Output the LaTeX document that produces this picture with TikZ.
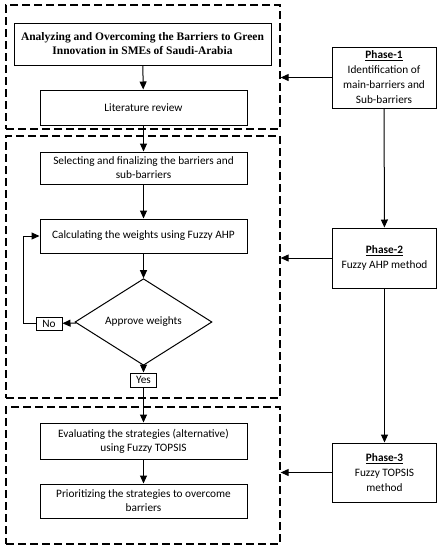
\documentclass[tikz,border=0pt]{standalone}
\usepackage{fontspec}
\setmainfont{Carlito}
\newfontfamily\titlefont{Liberation Serif}
\usetikzlibrary{arrows.meta,shapes.geometric}
\begin{document}
\begin{tikzpicture}[x=1pt,y=-1pt,
  box/.style={draw,line width=1pt,align=center,inner sep=2pt,font=\fontsize{11.3}{14}\selectfont},
  phasebox/.style={draw,line width=1pt,align=center,inner sep=2pt,minimum width=104pt,font=\fontsize{11.3}{15}\selectfont},
  dbox/.style={draw,line width=1.3pt,dash pattern=on 8pt off 4pt,inner sep=0pt},
  arr/.style={line width=1pt,-{Triangle[length=8pt,width=7pt]}},
  ln/.style={line width=1pt}]
\useasboundingbox (0,0) rectangle (442,550);
% dashed phase regions
\node[dbox,minimum width=274pt,minimum height=124pt] (d1) at (143,67) {};
\node[dbox,minimum width=274pt,minimum height=262pt] (d2) at (143,267) {};
\node[dbox,minimum width=274pt,minimum height=137pt] (d3) at (143,475.5) {};
% flow boxes
\node[box,minimum width=257pt,minimum height=42pt,font=\titlefont\bfseries\fontsize{11.5}{14}\selectfont] (title) at (142.5,44)
  {Analyzing and Overcoming the Barriers to Green\\Innovation in SMEs of Saudi-Arabia};
\node[box,minimum width=207pt,minimum height=35pt] (lit) at (143.5,107.5) {Literature review};
\node[box,minimum width=207pt,minimum height=32pt] (sel) at (143.5,168) {Selecting and finalizing the barriers and\\sub-barriers};
\node[box,minimum width=207pt,minimum height=34pt] (calc) at (143.5,236) {Calculating the weights using Fuzzy AHP};
\node[draw,line width=1pt,diamond,inner sep=0pt,minimum width=137pt,minimum height=67pt,font=\fontsize{11.3}{14}\selectfont] (appr) at (143.5,322) {Approve weights};
\node[box,minimum width=26pt,minimum height=13pt,inner sep=0pt] (no) at (49,323.5) {No};
\node[box,minimum width=26pt,minimum height=14pt,inner sep=0pt] (yes) at (143.5,380) {Yes};
\node[box,minimum width=207pt,minimum height=36pt] (eval) at (143.5,441) {Evaluating the strategies (alternative)\\using Fuzzy TOPSIS};
\node[box,minimum width=207pt,minimum height=34pt] (prio) at (143.5,501) {Prioritizing the strategies to overcome\\barriers};
\coordinate (loop) at (23,323.5);
% phase boxes
\node[phasebox,minimum height=61pt] (p1) at (384,77.5) {\textbf{\underline{Phase-1}}\\Identification of\\main-barriers and\\Sub-barriers};
\node[phasebox,minimum height=60pt] (p2) at (384.5,258) {\textbf{\underline{Phase-2}}\\Fuzzy AHP method};
\node[phasebox,minimum height=59pt] (p3) at (384.5,472.5) {\textbf{\underline{Phase-3}}\\Fuzzy TOPSIS\\method};
% connectors
\draw[arr] (title) -- (lit);
\draw[arr] (lit) -- (sel);
\draw[arr] (sel) -- (calc);
\draw[arr] (calc) -- (appr);
\draw[arr] (appr) -- (no);
\draw[arr] (appr) -- (yes);
\draw[arr] (yes) -- (eval);
\draw[arr] (eval) -- (prio);
\draw[arr] (no.west) -- (loop) |- (calc.west);
\draw[arr] (p1) -- (p1 -| d1.east);
\draw[arr] (p2) -- (p2 -| d2.east);
\draw[arr] (p3) -- (p3 -| d3.east);
\draw[arr] (p1) -- (p2);
\draw[arr] (p2) -- (p3);
\end{tikzpicture}
\end{document}
